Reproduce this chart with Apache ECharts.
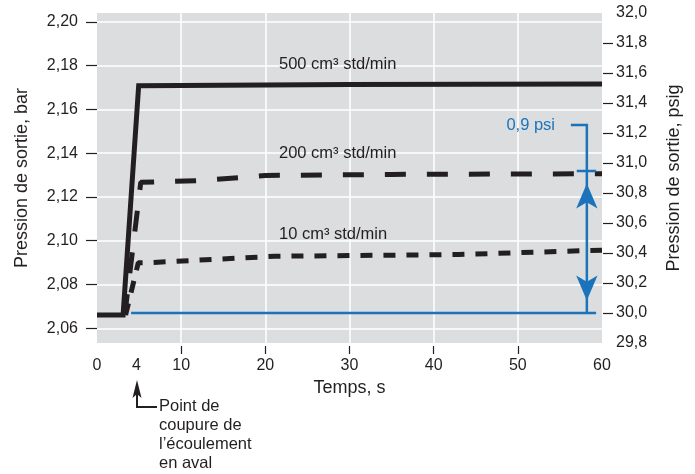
<!DOCTYPE html>
<html>
<head>
<meta charset="utf-8">
<script src="https://cdn.jsdelivr.net/npm/echarts@6/dist/echarts.min.js"></script>
<style>
  html, body { margin: 0; padding: 0; background: #fff; }
  #chart { width: 695px; height: 474px; }
</style>
</head>
<body>
<div id="chart"></div>
<script>
// values: [time s, pressure bar]
const FLOW_500 = [[0, 2.0661], [3.1, 2.0661], [4.95, 2.1708], [30, 2.1713], [60, 2.1716]];
const FLOW_200 = [[3.3, 2.0661], [5.2, 2.1267], [12.5, 2.1275], [20, 2.1298], [35, 2.1303], [60, 2.1306]];
const FLOW_10 = [[3.4, 2.0661], [4.9, 2.0899], [6.3, 2.0900], [21.1, 2.0929], [43, 2.0937], [60, 2.0957]];

// blue annotations, [time s, pressure psig]
const BASELINE_PSIG = [[4.05, 30.0], [59.3, 30.0]];
const SPAN_ARROW = [[58.2, 30.0], [58.2, 30.947]];
const SPAN_CAP = [[57.0, 30.947], [59.3, 30.947]];
const SPAN_LEADER = [[56.3, 31.253], [58.2, 31.253], [58.2, 30.947]];

const X_LABELS = [0, 4.7, 10, 20, 30, 40, 50, 60];
const X_TICKS = [10, 20, 30, 40, 50];
const BAR_TICKS = [2.06, 2.08, 2.10, 2.12, 2.14, 2.16, 2.18, 2.20];
const PSIG_TICKS = [30.0, 30.2, 30.4, 30.6, 30.8, 31.0, 31.2, 31.4, 31.6, 31.8];

const FONT = '"Liberation Sans", Arial, Helvetica, sans-serif';
const INK = "#231f20";
const BLUE = "#1b74bb";

const comma = (digits) => (v) => Number(v).toFixed(digits).replace(".", ",");

const chart = echarts.init(document.getElementById("chart"), null, { renderer: "canvas" });

const text = (str, x, y, opts) => ({
  type: "text",
  x, y, z: 100,
  style: Object.assign({
    text: str,
    font: "16.5px " + FONT,
    fill: INK,
    textAlign: "left",
    textVerticalAlign: "middle",
  }, opts || {}),
});

chart.setOption({
  animation: false,
  backgroundColor: "#fff",
  textStyle: { fontFamily: FONT },
  grid: {
    left: 97, right: 93, top: 13, bottom: 131,
    show: true, backgroundColor: "#dcdddf", borderWidth: 0,
  },
  xAxis: {
    type: "value",
    min: 0, max: 60,
    offset: 3,
    name: "Temps, s",
    nameLocation: "middle",
    nameGap: 30,
    nameTextStyle: { fontSize: 18, color: INK },
    axisLine: { show: false },
    axisTick: { length: 8, lineStyle: { color: INK, width: 1.2 }, customValues: X_TICKS },
    axisLabel: { fontSize: 16, color: INK, margin: 12, customValues: X_LABELS,
      formatter: (v) => String(Math.floor(v)) },
    splitLine: { lineStyle: { color: "#fff", width: 1.5 } },
  },
  yAxis: [
    {
      type: "value",
      min: 2.0533, max: 2.2040,
      offset: 3,
      name: "Pression de sortie, bar",
      nameLocation: "middle",
      nameRotate: 90,
      nameGap: 63,
      nameTextStyle: { fontSize: 18, color: INK },
      axisLine: { show: false },
      axisTick: { length: 11, lineStyle: { color: INK, width: 1.2 }, customValues: BAR_TICKS },
      axisLabel: { fontSize: 16, color: INK, margin: 16, customValues: BAR_TICKS, formatter: comma(2) },
      splitLine: { lineStyle: { color: "#fff", width: 1.5 } },
    },
    {
      type: "value",
      position: "right",
      min: 29.8, max: 32.0, interval: 0.2,
      offset: 1,
      name: "Pression de sortie, psig",
      nameLocation: "middle",
      nameRotate: 90,
      nameGap: 62,
      nameTextStyle: { fontSize: 18, color: INK },
      axisLine: { show: false },
      axisTick: { length: 10, lineStyle: { color: INK, width: 1.2 }, customValues: PSIG_TICKS },
      axisLabel: { fontSize: 16, color: INK, margin: 13, formatter: comma(1) },
      splitLine: { show: false },
    },
  ],
  series: [
    {
      type: "line", data: FLOW_10, symbol: "none", silent: true, z: 3,
      lineStyle: { color: INK, width: 5, type: [12, 11] },
    },
    {
      type: "line", data: FLOW_200, symbol: "none", silent: true, z: 3,
      lineStyle: { color: INK, width: 5, type: [21, 21] },
    },
    {
      type: "line", data: FLOW_500, symbol: "none", silent: true, z: 4,
      lineStyle: { color: INK, width: 5, join: "miter" },
    },
    {
      type: "line", yAxisIndex: 1, data: BASELINE_PSIG, symbol: "none", silent: true, z: 5,
      lineStyle: { color: BLUE, width: 2.5 },
    },
    {
      type: "line", yAxisIndex: 1, data: SPAN_LEADER, symbol: "none", silent: true, z: 5,
      lineStyle: { color: BLUE, width: 2.5, join: "miter" },
    },
    {
      type: "line", yAxisIndex: 1, data: SPAN_CAP, symbol: "none", silent: true, z: 5,
      lineStyle: { color: BLUE, width: 2.5 },
    },
    {
      type: "line", yAxisIndex: 1, silent: true, z: 6,
      showSymbol: true, symbol: "arrow", symbolSize: [16, 25],
      itemStyle: { color: BLUE },
      lineStyle: { color: BLUE, width: 2.5 },
      data: [
        { value: SPAN_ARROW[0], symbolRotate: 180, symbolOffset: [0, "-50%"] },
        { value: SPAN_ARROW[1], symbolRotate: 0, symbolOffset: [0, "50%"] },
      ],
    },
  ],
  graphic: [
    text("500 cm³ std/min", 279, 64),
    text("200 cm³ std/min", 279, 153),
    text("10 cm³ std/min", 279, 234),
    text("0,9 psi", 555, 125, { fill: BLUE, textAlign: "right" }),
    {
      type: "polyline", z: 100,
      shape: { points: [[137, 394], [137, 407], [157, 407]] },
      style: { stroke: INK, lineWidth: 2, fill: null },
    },
    {
      type: "polygon", z: 100,
      shape: { points: [[137, 380], [141.5, 398], [137, 394], [132.5, 398]] },
      style: { fill: INK },
    },
    text("Point de\ncoupure de\nl’écoulement\nen aval", 159, 397,
      { textVerticalAlign: "top", lineHeight: 19 }),
  ],
});
</script>
</body>
</html>
